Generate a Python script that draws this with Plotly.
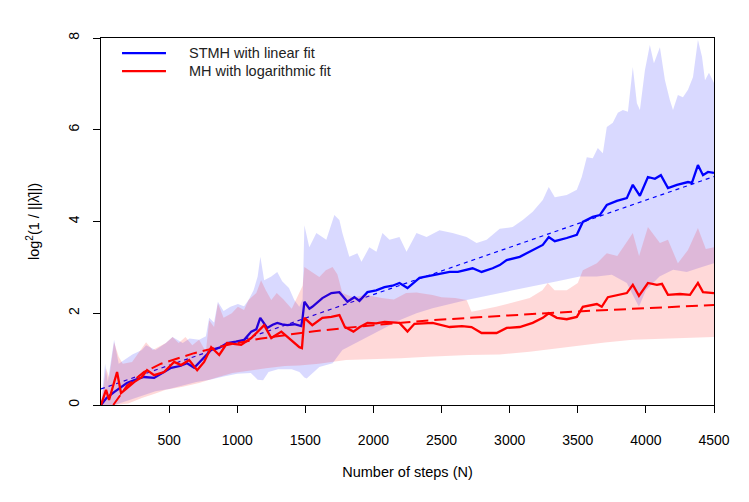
import plotly.graph_objects as go

# ---- data ----
# STMH mean curve
stmh_x = [0, 40, 96, 150, 190, 250, 316, 390, 450, 515, 580, 632, 684, 740, 809, 870, 926, 990, 1051, 1103,
          1140, 1169, 1220, 1260, 1294, 1330, 1368, 1420, 1470, 1480, 1493, 1530, 1551, 1625, 1691, 1750, 1809,
          1860, 1897, 1956, 2020, 2081, 2140, 2191, 2250, 2338, 2434, 2500, 2559, 2620, 2684, 2728, 2794, 2875,
          2927, 2978, 3074, 3120, 3169, 3243, 3287, 3331, 3419, 3493, 3537, 3610, 3662, 3713, 3787, 3860, 3904,
          3956, 4015, 4066, 4110, 4162, 4228, 4309, 4338, 4382, 4419, 4456, 4500]
stmh_y = [0.0, 0.15, 0.28, 0.40, 0.48, 0.55, 0.61, 0.59, 0.70, 0.81, 0.85, 0.91, 0.81, 0.98, 1.20, 1.25, 1.35, 1.38,
          1.42, 1.60, 1.65, 1.90, 1.68, 1.75, 1.79, 1.76, 1.74, 1.76, 1.72, 1.90, 2.25, 2.10, 2.14, 2.33, 2.44,
          2.46, 2.25, 2.35, 2.27, 2.46, 2.50, 2.57, 2.60, 2.66, 2.55, 2.77, 2.83, 2.86, 2.90, 2.90, 2.94, 2.98,
          2.90, 2.98, 3.05, 3.16, 3.23, 3.30, 3.38, 3.49, 3.66, 3.57, 3.64, 3.71, 3.99, 4.10, 4.14, 4.36, 4.45,
          4.51, 4.80, 4.56, 4.97, 4.93, 5.01, 4.73, 4.80, 4.86, 4.84, 5.23, 5.01, 5.08, 5.06]

# STMH band (upper / lower)
stmh_hi_x = [0, 30, 50, 96, 130, 180, 230, 300, 331, 400, 476, 525, 600, 650, 720, 770, 794, 830, 858, 900, 950,
             1005, 1050, 1083, 1120, 1150, 1170, 1198, 1250, 1294, 1330, 1380, 1419, 1456, 1480, 1493, 1529, 1581,
             1654, 1713, 1750, 1772, 1823, 1882, 1912, 1970, 2022, 2066, 2118, 2191, 2243, 2316, 2390, 2485, 2581,
             2684, 2757, 2831, 2927, 3022, 3096, 3169, 3243, 3287, 3331, 3419, 3493, 3529, 3566, 3610, 3647, 3684,
             3713, 3757, 3794, 3831, 3868, 3904, 3934, 3956, 3993, 4029, 4059, 4103, 4140, 4176, 4199, 4235, 4272,
             4309, 4346, 4382, 4412, 4434, 4463, 4500]
stmh_hi = [0.0, 0.9, 0.5, 1.42, 0.9, 1.0, 1.1, 1.2, 1.3, 1.2, 1.35, 1.48, 1.35, 1.45, 1.42, 1.5, 1.9, 1.8, 2.25,
           2.05, 2.14, 2.2, 2.15, 2.29, 2.5, 2.8, 3.23, 2.72, 2.8, 2.9, 2.7, 2.55, 2.29, 2.14, 2.3, 3.92, 3.44,
           3.75, 3.6, 4.14, 4.03, 3.75, 3.23, 3.31, 3.12, 3.44, 3.34, 3.75, 3.6, 3.66, 3.34, 3.75, 3.66, 3.81,
           3.75, 3.66, 3.53, 3.6, 3.84, 3.88, 4.03, 4.21, 4.47, 4.75, 4.53, 4.58, 4.69, 4.97, 5.4, 5.38, 5.6, 5.49,
           6.06, 6.15, 6.37, 6.43, 6.39, 7.37, 6.58, 6.43, 7.3, 7.85, 7.45, 7.8, 7.08, 6.65, 6.43, 6.76, 6.71,
           6.87, 7.15, 7.96, 7.59, 7.08, 7.24, 7.02]
stmh_lo_x = [0, 100, 200, 300, 400, 500, 600, 700, 800, 900, 1000, 1100, 1150, 1190, 1230, 1300, 1400, 1456, 1493,
             1510, 1603, 1700, 1772, 1946, 2191, 2316, 2434, 2684, 2927, 3147, 3350, 3515, 3560, 3640, 3750, 3860,
             3904, 3949, 4000, 4100, 4200, 4300, 4400, 4500]
stmh_lo = [0.0, 0.0, 0.1, 0.2, 0.3, 0.35, 0.42, 0.5, 0.55, 0.62, 0.68, 0.7, 0.55, 0.54, 0.72, 0.78, 0.78, 0.72,
           0.6, 0.58, 0.83, 0.91, 1.2, 1.48, 1.85, 2.0, 2.11, 2.29, 2.44, 2.57, 2.7, 2.8, 2.8, 2.8, 2.84, 2.66,
           2.4, 2.14, 2.5, 2.8, 2.95, 2.9, 3.0, 3.09]

# STMH linear fit (end points)
stmh_fit_x = [0, 4500]
stmh_fit_y = [0.35, 4.98]

# MH mean curve
mh_x = [0, 37, 59, 81, 100, 118, 135, 147, 191, 243, 301, 338, 390, 463, 537, 588, 647, 706, 757, 809, 868, 926,
        1029, 1103, 1198, 1250, 1324, 1397, 1456, 1475, 1493, 1551, 1625, 1691, 1750, 1790, 1853, 1900, 1956, 2020,
        2081, 2191, 2250, 2301, 2434, 2559, 2650, 2720, 2794, 2904, 2978, 3074, 3169, 3243, 3287, 3346, 3419, 3493,
        3537, 3640, 3676, 3721, 3787, 3860, 3904, 3949, 4015, 4081, 4118, 4162, 4250, 4324, 4382, 4419, 4500]
mh_y = [0.0, 0.33, 0.11, 0.33, 0.50, 0.72, 0.45, 0.26, 0.37, 0.50, 0.61, 0.76, 0.65, 0.72, 0.94, 0.87, 0.98, 0.76,
        0.94, 1.26, 1.09, 1.35, 1.31, 1.46, 1.74, 1.46, 1.60, 1.42, 1.26, 1.24, 1.90, 1.74, 1.90, 1.92, 1.96, 1.70,
        1.60, 1.70, 1.79, 1.78, 1.81, 1.79, 1.60, 1.77, 1.79, 1.70, 1.72, 1.70, 1.57, 1.57, 1.68, 1.70, 1.79, 1.90,
        2.00, 1.90, 1.87, 1.92, 2.14, 2.20, 2.14, 2.35, 2.40, 2.44, 2.62, 2.38, 2.66, 2.62, 2.64, 2.40, 2.42, 2.40,
        2.66, 2.46, 2.44]

# MH band (upper / lower)
mh_hi_x = [0, 37, 60, 96, 130, 160, 228, 331, 380, 476, 525, 570, 620, 670, 720, 770, 794, 830, 858, 900, 960,
           1005, 1050, 1083, 1140, 1175, 1210, 1250, 1290, 1340, 1400, 1456, 1480, 1493, 1529, 1603, 1650, 1700,
           1735, 1772, 1850, 1946, 2060, 2150, 2240, 2316, 2434, 2500, 2600, 2684, 2720, 2900, 3147, 3240, 3280,
           3330, 3419, 3500, 3537, 3640, 3713, 3790, 3904, 3950, 4015, 4103, 4162, 4235, 4309, 4382, 4440, 4500]
mh_hi = [0.0, 0.8, 0.6, 1.37, 1.05, 0.9, 0.94, 1.37, 1.2, 1.35, 1.48, 1.35, 1.48, 1.3, 1.42, 1.16, 1.85, 1.7,
         2.22, 1.9, 2.0, 2.14, 2.07, 2.29, 2.44, 2.72, 2.5, 2.29, 2.44, 2.3, 2.1, 2.44, 2.6, 3.01, 2.94, 2.79,
         2.94, 3.01, 2.85, 2.44, 2.35, 2.4, 2.33, 2.3, 2.44, 2.45, 2.4, 2.35, 2.33, 2.29, 2.03, 2.14, 2.33, 2.5,
         2.66, 2.5, 2.5, 2.66, 2.94, 3.09, 3.31, 3.25, 3.75, 3.25, 3.88, 3.53, 3.6, 3.09, 3.38, 3.86, 3.4, 3.44]
mh_lo_x = [0, 100, 200, 300, 400, 476, 600, 720, 850, 965, 1100, 1211, 1350, 1456, 1600, 1800, 2200, 2400, 2700,
           2927, 3147, 3419, 3700, 3904, 4200, 4500]
mh_lo = [0.0, 0.0, 0.03, 0.15, 0.25, 0.33, 0.4, 0.48, 0.6, 0.7, 0.75, 0.8, 0.85, 0.86, 0.9, 0.98, 1.02, 1.05,
         1.09, 1.1, 1.16, 1.26, 1.36, 1.42, 1.45, 1.48]

# MH logarithmic fit
mh_fit_x = [90, 191, 316, 441, 684, 926, 1176, 1566, 2000, 2434, 2927, 3500, 4000, 4500]
mh_fit_y = [0.0, 0.42, 0.72, 0.90, 1.13, 1.31, 1.45, 1.61, 1.74, 1.85, 1.94, 2.04, 2.11, 2.18]

x_ticks = [500, 1000, 1500, 2000, 2500, 3000, 3500, 4000, 4500]
y_ticks = [0, 2, 4, 6, 8]

legend_labels = ["STMH with linear fit", "MH with logarithmic fit"]
legend_colors = ["#0000FF", "#FF0000"]

FONT = "Liberation Sans, Arial, sans-serif"

fig = go.Figure()

# STMH band + lines
fig.add_trace(go.Scatter(x=stmh_hi_x + stmh_lo_x[::-1], y=stmh_hi + stmh_lo[::-1],
                         fill="toself", fillcolor="rgba(0,0,255,0.15)", mode="lines",
                         line=dict(width=0), hoverinfo="skip", showlegend=False))
fig.add_trace(go.Scatter(x=stmh_x, y=stmh_y, mode="lines", name=legend_labels[0], showlegend=False,
                         line=dict(color=legend_colors[0], width=2.3)))
fig.add_trace(go.Scatter(x=stmh_fit_x, y=stmh_fit_y, mode="lines", showlegend=False,
                         line=dict(color=legend_colors[0], width=1.2, dash="4px,4px")))

# MH band + lines
fig.add_trace(go.Scatter(x=mh_hi_x + mh_lo_x[::-1], y=mh_hi + mh_lo[::-1],
                         fill="toself", fillcolor="rgba(255,0,0,0.15)", mode="lines",
                         line=dict(width=0), hoverinfo="skip", showlegend=False))
fig.add_trace(go.Scatter(x=mh_x, y=mh_y, mode="lines", name=legend_labels[1], showlegend=False,
                         line=dict(color=legend_colors[1], width=2.3)))
fig.add_trace(go.Scatter(x=mh_fit_x, y=mh_fit_y, mode="lines", showlegend=False,
                         line=dict(color=legend_colors[1], width=2, dash="12px,6px")))

# legend drawn R-style (long line samples, no box)
shapes = []
annotations = []
for i, (lab, col) in enumerate(zip(legend_labels, legend_colors)):
    yy = 0.959 - i * 0.049
    shapes.append(dict(type="line", xref="paper", yref="paper", x0=0.0343, x1=0.106, y0=yy, y1=yy,
                       line=dict(color=col, width=2.2)))
    annotations.append(dict(xref="paper", yref="paper", x=0.1403, y=yy, text=lab, showarrow=False,
                            xanchor="left", yanchor="middle", font=dict(size=14.5, color="#222")))

# page body has an 8px margin, so the figure is 8px smaller than the window
fig.update_layout(
    width=741, height=494,
    margin=dict(l=93, r=35, t=30, b=97),
    paper_bgcolor="white", plot_bgcolor="white",
    font=dict(family=FONT, size=14, color="black"),
    showlegend=False,
    shapes=shapes, annotations=annotations,
    xaxis=dict(range=[0, 4500], tickmode="array", tickvals=x_ticks,
               ticktext=[str(v) for v in x_ticks], ticks="outside", ticklen=7, tickcolor="black",
               ticklabelstandoff=15, tickfont=dict(size=14),
               showline=True, linecolor="black", linewidth=1, mirror=True, showgrid=False, zeroline=False,
               title=dict(text="Number of steps (N)", standoff=20, font=dict(size=14.5))),
    yaxis=dict(range=[0, 8], tickmode="array", tickvals=y_ticks, ticktext=[str(v) for v in y_ticks],
               ticks="outside", ticklen=7, tickcolor="black", tickangle=-90, ticklabelstandoff=8,
               tickfont=dict(size=14),
               showline=True, linecolor="black", linewidth=1, mirror=True, showgrid=False, zeroline=False,
               title=dict(text="log<sup>2</sup>(1 / ||λ̂||)", standoff=23, font=dict(size=14.5))),
)

fig.write_html("out.html")
